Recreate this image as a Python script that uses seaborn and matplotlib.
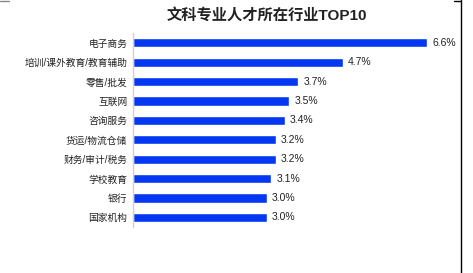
import matplotlib
matplotlib.use("Agg")
import matplotlib.pyplot as plt
import seaborn as sns
import pandas as pd
from matplotlib.lines import Line2D

industries = ["电子商务", "培训/课外教育/教育辅助", "零售/批发", "互联网", "咨询服务",
              "货运/物流仓储", "财务/审计/税务", "学校教育", "银行", "国家机构"]
shares = [6.6, 4.7, 3.7, 3.5, 3.4, 3.2, 3.2, 3.1, 3.0, 3.0]
title = "文科专业人才所在行业TOP10"

df = pd.DataFrame({"industry": industries, "share": shares})

sns.set_theme(style="white")
plt.rcParams['font.family'] = ['Liberation Sans', 'Noto Sans CJK SC', 'DejaVu Sans']

fig = plt.figure(figsize=(4.73, 2.73), dpi=100)
ax = fig.add_axes([0.281, 0.168, 0.66, 0.711])
sns.barplot(data=df, x="share", y="industry", color="#0437F2", saturation=1,
            width=0.47, ax=ax, orient="h")
ax.set_xlim(0, 7.0)
ax.set_ylim(9.5, -0.5)
ax.set_xlabel("")
ax.set_ylabel("")
ax.set_xticks([])
for s in ["top", "right", "bottom"]:
    ax.spines[s].set_visible(False)
ax.spines["left"].set_color("#d0d0d0")
ax.spines["left"].set_linewidth(1.0)
ax.tick_params(axis="y", length=0, pad=4, labelsize=7, colors="#222222")
for i, v in enumerate(shares):
    ax.text(v + 0.12, i, f"{v:.1f}%", va="center", ha="left", fontsize=7.5, color="#222222")

fig.text(0.565, 0.945, title, ha="center", va="center", fontsize=11, fontweight="bold", color="#222222")

fig.add_artist(Line2D([0.9745, 0.9745], [0, 1], transform=fig.transFigure, color="black", lw=1))
fig.add_artist(Line2D([0.96, 0.9745], [0.998, 0.998], transform=fig.transFigure, color="black", lw=1))
fig.add_artist(Line2D([0.0, 0.02], [0.998, 0.998], transform=fig.transFigure, color="#888888", lw=1))

fig.savefig("out.png", dpi=100)
